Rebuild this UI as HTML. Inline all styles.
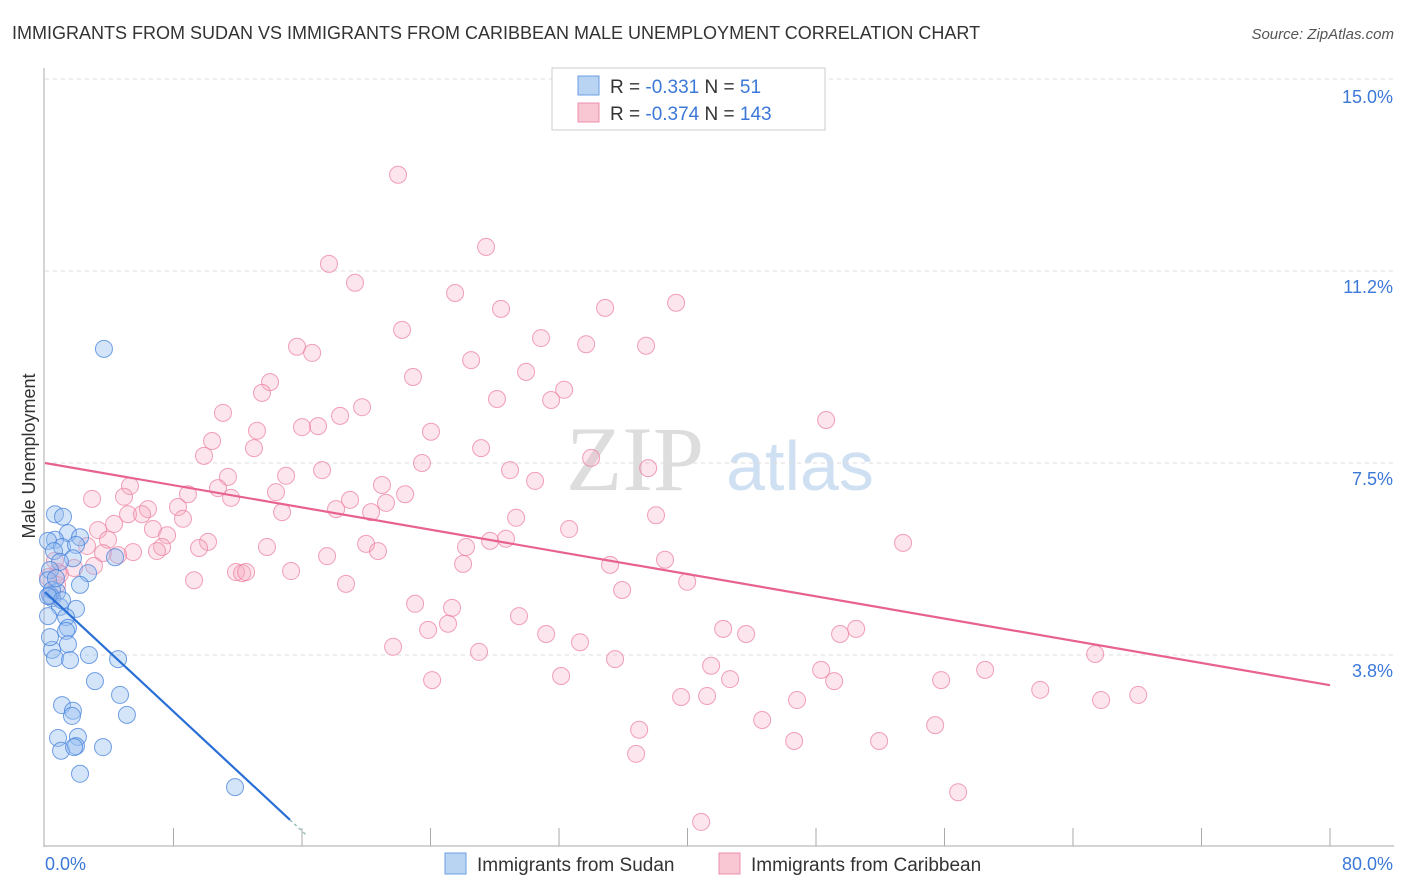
<!DOCTYPE html>
<html><head><meta charset="utf-8"><style>
body{margin:0;background:#fff;font-family:"Liberation Sans",sans-serif;}
#wrap{position:relative;width:1406px;height:892px;overflow:hidden;}
</style></head><body>
<div id="wrap">
<svg id="chart" width="1406" height="892" xmlns="http://www.w3.org/2000/svg">
<text x="12" y="39" font-size="18" fill="#333">IMMIGRANTS FROM SUDAN VS IMMIGRANTS FROM CARIBBEAN MALE UNEMPLOYMENT CORRELATION CHART</text>
<text x="1394" y="39" font-size="15" fill="#555" font-style="italic" text-anchor="end">Source: ZipAtlas.com</text>
<text x="35" y="456" font-size="18" fill="#333" transform="rotate(-90 35 456)" text-anchor="middle">Male Unemployment</text>
<g><text x="635" y="490" font-size="92" fill="#ddd" font-family="Liberation Serif,serif" text-anchor="middle">ZIP</text><text x="800" y="490" font-size="70" fill="#cfe0f3" text-anchor="middle">atlas</text></g>
<g id="grid"></g><g id="pts"></g><g id="lines"></g>
<g>
<rect x="552" y="68" width="273" height="62" fill="#fff" stroke="#ccc"/>
<rect x="578" y="76" width="21" height="19" fill="#b9d3f3" stroke="#6a9fe0"/>
<rect x="578" y="103" width="21" height="19" fill="#f9c6d4" stroke="#ec8fab"/>
<text x="610" y="93" font-size="19" fill="#333">R = <tspan fill="#3b78d8">-0.331</tspan>   N = <tspan fill="#3b78d8">  51</tspan></text>
<text x="610" y="120" font-size="19" fill="#333">R = <tspan fill="#3b78d8">-0.374</tspan>   N = <tspan fill="#3b78d8">143</tspan></text>
</g>
<g>
<rect x="445" y="853" width="21" height="21" fill="#b9d3f3" stroke="#6a9fe0"/>
<text x="477" y="871" font-size="19" fill="#333">Immigrants from Sudan</text>
<rect x="719" y="853" width="21" height="21" fill="#f9c6d4" stroke="#ec8fab"/>
<text x="751" y="871" font-size="19" fill="#333">Immigrants from Caribbean</text>
</g>
</svg></div>
<script>
const yTicks=[3.75,7.5,11.25,15];
const yTickLabels=["3.8%","7.5%","11.2%","15.0%"];
const xTickLabels=["0.0%","80.0%"];
const sudanX=[3.67,0.62,1.12,1.43,2.18,0.62,0.19,1.06,1.93,0.56,1.74,4.36,0.93,2.68,0.31,0.19,2.18,0.75,0.31,0.44,1.93,0.93,0.19,1.31,1.43,1.31,1.43,0.44,0.62,1.56,2.74,4.55,3.11,4.67,1.06,1.74,1.68,5.1,0.81,2.05,1.0,1.93,1.81,3.61,2.18,11.83,0.44,0.19,0.68,1.06,0.31];
const sudanY=[9.73,6.5,6.45,6.13,6.05,6.0,5.98,5.86,5.9,5.78,5.64,5.66,5.57,5.35,5.41,5.21,5.12,4.98,4.92,4.86,4.65,4.69,4.51,4.49,4.28,4.22,3.96,3.85,3.69,3.65,3.75,3.67,3.24,2.97,2.77,2.66,2.56,2.58,2.13,2.15,1.88,1.97,1.95,1.95,1.43,1.17,5.02,4.9,5.25,4.82,4.1];
const carX=[21.98,27.46,17.68,19.3,25.53,34.87,39.29,28.39,22.23,30.88,33.69,37.42,15.69,16.63,26.53,29.95,22.91,14.01,13.51,32.32,31.51,28.14,19.74,11.08,48.63,18.37,17.0,16.0,24.03,13.2,10.4,27.15,9.9,13.01,34.0,23.47,37.55,17.25,15.01,28.95,11.39,30.51,20.98,10.77,5.29,2.93,14.38,4.92,8.9,22.42,11.58,18.99,21.23,8.28,6.41,18.12,14.76,5.17,20.3,29.33,38.04,8.59,6.04,3.3,4.3,6.72,7.6,32.63,3.92,10.15,2.62,13.82,26.21,19.99,27.71,28.7,53.42,9.59,7.29,5.48,3.61,4.55,6.97,17.56,20.73,38.6,26.03,0.62,35.18,1.81,0.81,3.05,11.89,12.27,12.52,15.32,0.19,39.98,9.28,18.74,35.93,23.04,25.34,29.51,23.85,25.09,42.22,43.65,50.5,49.5,31.2,33.31,21.67,27.02,35.49,41.47,48.32,58.53,42.65,32.13,49.13,24.1,55.79,61.96,39.6,41.22,46.82,65.75,68.06,65.38,36.99,44.65,55.42,46.64,51.93,36.8,56.85,40.85,0.37,0.75,0.93];
const carY=[13.13,11.72,11.39,11.02,10.82,10.53,10.63,10.51,10.1,9.94,9.82,9.79,9.77,9.65,9.51,9.28,9.18,9.08,8.87,8.93,8.73,8.75,8.59,8.48,8.34,8.42,8.22,8.2,8.11,8.13,7.93,7.79,7.64,7.79,7.6,7.5,7.4,7.36,7.25,7.36,7.23,7.15,7.07,7.01,7.05,6.8,6.93,6.84,6.89,6.89,6.82,6.78,6.72,6.64,6.6,6.6,6.54,6.5,6.54,6.43,6.48,6.41,6.5,6.19,6.31,6.21,6.09,6.21,6.0,5.96,5.88,5.86,5.86,5.92,5.98,6.02,5.94,5.84,5.86,5.76,5.74,5.7,5.78,5.68,5.78,5.61,5.53,5.59,5.51,5.45,5.37,5.49,5.37,5.35,5.37,5.39,5.27,5.18,5.21,5.14,5.02,4.75,4.67,4.51,4.24,4.36,4.26,4.16,4.26,4.16,4.16,4.0,3.91,3.81,3.67,3.54,3.46,3.46,3.28,3.34,3.24,3.26,3.26,3.07,2.93,2.95,2.87,2.87,2.97,3.77,2.29,2.48,2.38,2.07,2.07,1.82,1.07,0.49,4.9,5.12,5.33];
const sudanTrend=[[0,4.98],[15.25,0.53]];
const carTrend=[[0,7.5],[80,3.16]];
const NS="http://www.w3.org/2000/svg";
const X=v=>45+v*1285/80, Y=v=>847-v*51.2;
function mk(tag,attrs,parent){const e=document.createElementNS(NS,tag);for(const k in attrs)e.setAttribute(k,attrs[k]);parent.appendChild(e);return e;}
const grid=document.getElementById('grid'),pts=document.getElementById('pts'),lines=document.getElementById('lines');
yTicks.forEach((t,i)=>{
 const l=mk('line',{x1:45,x2:1394,y1:Y(t),y2:Y(t),stroke:'#ddd','stroke-dasharray':'4,4'},grid);
 
 
 const tx=mk('text',{x:1393,y:Y(t)+(i==3?24:22),'font-size':18,fill:'#3b78d8','text-anchor':'end'},grid);
 tx.textContent=yTickLabels[i];
 
 
});
const ax=mk('line',{x1:44,x2:44,y1:68,y2:847,stroke:'#aaa'},grid);


const bx=mk('line',{x1:44,x2:1394,y1:846,y2:846,stroke:'#aaa'},grid);


for(let i=1;i<=10;i++){const t=mk('line',{x1:X(i*8),x2:X(i*8),y1:828,y2:846,stroke:'#aaa'},grid);
 
 }
[[0,'start',45],[80,'end',1393]].forEach((d,i)=>{const t=mk('text',{x:d[2],y:870,'font-size':18,fill:'#3b78d8','text-anchor':d[1]},grid);t.textContent=xTickLabels[i];
 
 });
carX.forEach((v,i)=>{const c=mk('circle',{cx:X(v),cy:Y(carY[i]),r:8.5,fill:'rgba(246,170,192,0.3)',stroke:'rgba(236,130,160,0.75)','stroke-width':1},pts);
 
 });
sudanX.forEach((v,i)=>{const c=mk('circle',{cx:X(v),cy:Y(sudanY[i]),r:8.5,fill:'rgba(150,190,240,0.4)',stroke:'rgba(70,130,220,0.75)','stroke-width':1},pts);
 
 });
const pl=mk('line',{x1:X(carTrend[0][0]),y1:Y(carTrend[0][1]),x2:X(carTrend[1][0]),y2:Y(carTrend[1][1]),stroke:'#e8628f','stroke-width':2.2},lines);


const bl=mk('line',{x1:X(sudanTrend[0][0]),y1:Y(sudanTrend[0][1]),x2:X(sudanTrend[1][0]),y2:Y(sudanTrend[1][1]),stroke:'#2a6fd6','stroke-width':2.2},lines);


const s=(sudanTrend[1][1]-sudanTrend[0][1])/(sudanTrend[1][0]-sudanTrend[0][0]);
const ex=sudanTrend[1][0]+1.0;
const bd=mk('line',{x1:X(sudanTrend[1][0]),y1:Y(sudanTrend[1][1]),x2:X(ex),y2:Y(sudanTrend[1][1]+s*1.0),stroke:'#9bb',"stroke-dasharray":'3,3','stroke-width':1.5},lines);


</script>
</body></html>
